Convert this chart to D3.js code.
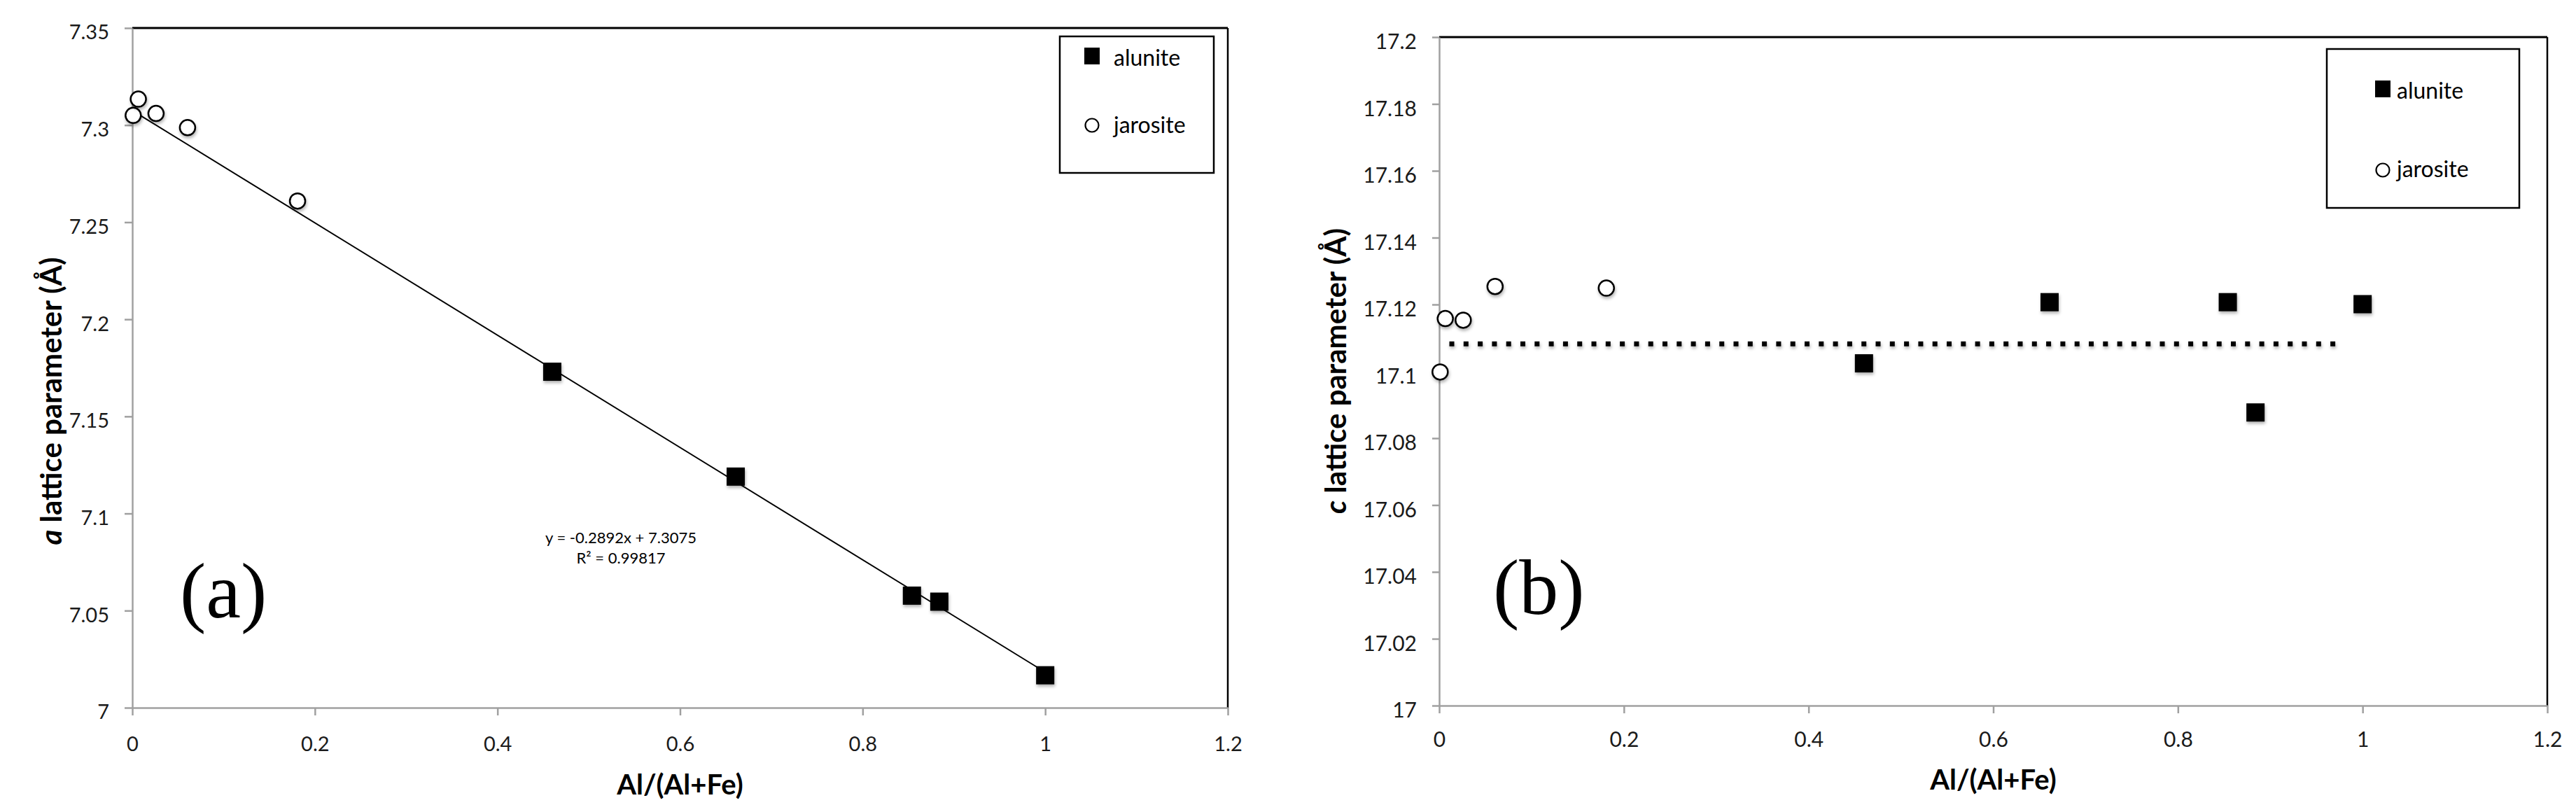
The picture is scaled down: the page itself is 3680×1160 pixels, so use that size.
<!DOCTYPE html>
<html><head><meta charset="utf-8">
<script src="https://cdn.jsdelivr.net/npm/d3@7"></script>
<style>body{margin:0;background:#fff} svg{display:block}</style>
</head><body>
<svg id="chart" width="3680" height="1160"></svg>
<script>
// ---------- data ----------
const xTicks = [0, 0.2, 0.4, 0.6, 0.8, 1, 1.2];
const aTicks = [7, 7.05, 7.1, 7.15, 7.2, 7.25, 7.3, 7.35];
const cTicks = [17, 17.02, 17.04, 17.06, 17.08, 17.1, 17.12, 17.14, 17.16, 17.18, 17.2];

const aluniteX = [0.46, 0.661, 0.854, 0.884, 1.0];
const aluniteA = [7.173, 7.119, 7.0577, 7.0546, 7.0167];
const aluniteC = [17.1024, 17.1207, 17.1207, 17.0877, 17.1201];

const jarositeX = [0.001, 0.0066, 0.026, 0.0605, 0.181];
const jarositeA = [7.305, 7.3134, 7.306, 7.2987, 7.2609];
const jarositeC = [17.0998, 17.1158, 17.1153, 17.1254, 17.1249];

const fitSlope = -0.2892, fitIntercept = 7.3075;
const fitX = [0, 1];
const eqLines = ["y = -0.2892x + 7.3075", "R\u00B2 = 0.99817"];

const meanLineX = [0.011, 0.971];
const meanC = 17.1082;

const seriesNames = ["alunite", "jarosite"];

// ---------- drawing ----------
const svg = d3.select("#chart");
const defs = svg.append("defs");
const f = defs.append("filter").attr("id", "shadow").attr("filterUnits", "userSpaceOnUse")
  .attr("x", 0).attr("y", 0).attr("width", 3680).attr("height", 1160);
f.append("feDropShadow").attr("dx", 1).attr("dy", 3).attr("stdDeviation", 2)
  .attr("flood-color", "#000").attr("flood-opacity", 0.3);

const AXIS = "#a0a0a0";
const TICKFONT = "Lato, 'Open Sans', sans-serif";
const fmt = d => String(+d.toFixed(2));

function panel(o) {
  const x = d3.scaleLinear().domain([0, 1.2]).range([o.x0, o.x1]);
  const y = d3.scaleLinear().domain(o.yDomain).range([o.y0, o.y1]);
  const g = svg.append("g");

  // frame top / right (black)
  g.append("line").attr("x1", o.x0).attr("x2", o.x1).attr("y1", o.y1).attr("y2", o.y1)
    .attr("stroke", "#000").attr("stroke-width", 3);
  g.append("line").attr("x1", o.x1).attr("x2", o.x1).attr("y1", o.y1).attr("y2", o.y0)
    .attr("stroke", "#000").attr("stroke-width", 2.5);

  // axes
  const ya = g.append("g").attr("transform", `translate(${o.x0},0)`)
    .call(d3.axisLeft(y).tickValues(o.yTicks).tickFormat(fmt).tickSize(o.tickLen).tickSizeOuter(0).tickPadding(22));
  const xa = g.append("g").attr("transform", `translate(0,${o.y0})`)
    .call(d3.axisBottom(x).tickValues(xTicks).tickFormat(fmt).tickSize(11).tickSizeOuter(0).tickPadding(o.xPad));
  [ya, xa].forEach(a => {
    a.select(".domain").attr("stroke", AXIS).attr("stroke-width", 2.5);
    a.selectAll(".tick line").attr("stroke", AXIS).attr("stroke-width", 2.5);
    a.selectAll(".tick text").attr("fill", "#1a1a1a").style("font-family", TICKFONT)
      .style("font-size", o.tickFont + "px");
  });
  ya.selectAll(".tick text").attr("dy", "0.55em");

  // axis titles
  g.append("text").attr("transform", `translate(${o.yTitleX},${o.yTitleY}) rotate(-90)`)
    .attr("text-anchor", "middle").style("font-family", TICKFONT).style("font-weight", 700)
    .style("font-size", "42px").attr("fill", "#000")
    .call(t => { t.append("tspan").style("font-style", "italic").text(o.letter);
                 t.append("tspan").text(" lattice parameter (\u00C5)"); });
  g.append("text").attr("x", x(0.6)).attr("y", o.xTitleY).attr("text-anchor", "middle")
    .style("font-family", TICKFONT).style("font-weight", 700).style("font-size", "40px")
    .text("Al/(Al+Fe)");

  // panel label
  g.append("text").attr("x", o.labX).attr("y", o.labY)
    .style("font-family", "'Liberation Serif', 'Times New Roman', serif").style("font-size", "112px")
    .text(o.label);

  // legend
  const L = o.legend;
  g.append("rect").attr("x", L.x).attr("y", L.y).attr("width", L.w).attr("height", L.h)
    .attr("fill", "#fff").attr("stroke", "#000").attr("stroke-width", 2.5);
  g.append("rect").attr("x", L.mx - 11).attr("y", L.my[0] - 12).attr("width", 22).attr("height", 24).attr("fill", "#000");
  g.append("circle").attr("cx", L.mx).attr("cy", L.my[1]).attr("r", 9.5)
    .attr("fill", "#fff").attr("stroke", "#000").attr("stroke-width", 2.2);
  seriesNames.forEach((n, i) => {
    g.append("text").attr("x", L.tx).attr("y", L.ty[i]).style("font-family", TICKFONT)
      .style("font-size", "32px").attr("fill", "#000").text(n);
  });

  return { g, x, y };
}

// Panel (a)
const A = panel({
  x0: 189, x1: 1754, y0: 1011, y1: 40, yDomain: [7, 7.35], yTicks: aTicks, tickLen: 11,
  xPad: 30, tickFont: 29, letter: "a", yTitleX: 88, yTitleY: 573, xTitleY: 1135,
  label: "(a)", labX: 257, labY: 882,
  legend: { x: 1514, y: 52, w: 220, h: 195, mx: 1560, my: [80, 179], tx: 1591, ty: [94, 190] }
});
// trendline
A.g.append("path")
  .datum(fitX.map(v => [v, fitIntercept + fitSlope * v]))
  .attr("d", d3.line().x(d => A.x(d[0])).y(d => A.y(d[1])))
  .attr("stroke", "#000").attr("stroke-width", 2).attr("fill", "none");
A.g.selectAll(".eq").data(eqLines).join("text")
  .attr("x", 887).attr("y", (d, i) => 776 + i * 29).attr("text-anchor", "middle")
  .style("font-family", TICKFONT).style("font-size", "22px").attr("fill", "#000").text(d => d);

// Panel (b)
const B = panel({
  x0: 2056, x1: 3639, y0: 1008, y1: 53, yDomain: [17, 17.2], yTicks: cTicks, tickLen: 10,
  xPad: 27, tickFont: 30, letter: "c", yTitleX: 1923, yTitleY: 530, xTitleY: 1128,
  label: "(b)", labX: 2133, labY: 877,
  legend: { x: 3324, y: 70, w: 275, h: 227, mx: 3404, my: [127, 243], tx: 3424, ty: [141, 253] }
});
B.g.append("path")
  .datum(meanLineX.map(v => [v, meanC]))
  .attr("d", d3.line().x(d => B.x(d[0])).y(d => B.y(d[1])))
  .attr("stroke", "#000").attr("stroke-width", 7).attr("stroke-dasharray", "7 13.3")
  .attr("fill", "none").attr("filter", "url(#shadow)");

function markers(P, yVals) {
  P.g.append("g").selectAll("circle").data(jarositeX.map((v, i) => [v, yVals.j[i]])).join("circle")
    .attr("cx", d => P.x(d[0])).attr("cy", d => P.y(d[1])).attr("r", 11)
    .attr("fill", "#fff").attr("stroke", "#000").attr("stroke-width", 2.5).attr("filter", "url(#shadow)");
  P.g.append("g").selectAll("rect").data(aluniteX.map((v, i) => [v, yVals.a[i]])).join("rect")
    .attr("x", d => P.x(d[0]) - 13).attr("y", d => P.y(d[1]) - 13).attr("width", 26).attr("height", 26)
    .attr("fill", "#000").attr("filter", "url(#shadow)");
}
markers(A, { a: aluniteA, j: jarositeA });
markers(B, { a: aluniteC, j: jarositeC });
</script>
</body></html>
